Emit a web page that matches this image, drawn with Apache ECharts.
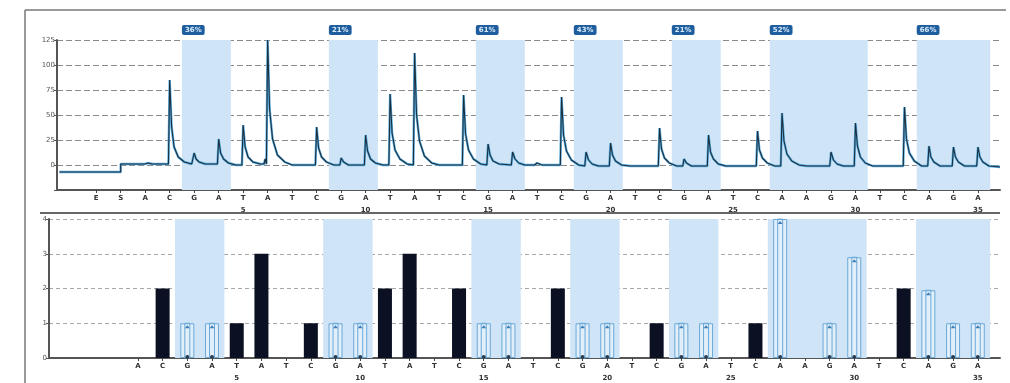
<!DOCTYPE html>
<html><head><meta charset="utf-8">
<script src="https://cdn.jsdelivr.net/npm/echarts@6/dist/echarts.min.js"></script>
<style>html,body{margin:0;padding:0;background:#fff}#c{width:1010px;height:383px}</style>
</head><body><div id="c"></div>
<script>
// Dispensation order of the pyrogram (top: with E and S), numbered from the first A
const topLetters = ['E','S','A','C','G','A','T','A','T','C','G','A','T','A','T','C','G','A','T','C','G','A','T','C','G','A','T','C','A','A','G','A','T','C','A','G','A'];
const bottomLetters = ['A','C','G','A','T','A','T','C','G','A','T','A','T','C','G','A','T','C','G','A','T','C','G','A','T','C','A','A','G','A','T','C','A','G','A'];
const numberLabels = [5,10,15,20,25,30,35];
// variable positions (dispensation numbers, first..last) and their methylation %
const regionStart = [3,9,15,19,23,27,33];
const regionEnd   = [4,10,16,20,24,30,35];
const percents = ['36%','21%','61%','43%','21%','52%','66%'];
// histogram (expected peak heights) per dispensation number 1..35
const histogram = [0,2,1,1,1,3,0,1,1,1,2,3,0,2,1,1,0,2,1,1,0,1,1,1,0,1,4,0,1,2.9,0,2,1.95,1,1];
// pyrogram trace: [dispensation index (E=0), signal]
const trace = [
[-1.5,-7],[1.0,-7],[1.0,1],[2.0,1],[2.1,2],[2.3,1],
[2.95,1],[3.0,85],[3.08,38],[3.18,18],[3.35,8],[3.6,3],[3.9,1],
[3.95,1],[4.0,12],[4.08,6],[4.2,3],[4.45,1],
[4.95,1],[5.0,26],[5.08,12],[5.2,6],[5.4,2],[5.7,0],
[5.95,0],[6.0,40],[6.08,18],[6.2,8],[6.4,3],[6.7,1],
[6.85,1],[6.9,6],[6.95,1],[7.0,125],[7.08,56],[7.2,26],[7.4,10],[7.7,3],[8.0,0],
[8.95,0],[9.0,38],[9.08,17],[9.2,8],[9.4,3],[9.7,0],
[9.95,0],[10.0,7],[10.1,3],[10.3,0],
[10.95,0],[11.0,30],[11.08,14],[11.2,6],[11.4,2],[11.7,0],
[11.95,0],[12.0,71],[12.08,32],[12.2,15],[12.4,6],[12.7,1],
[12.95,0],[13.0,112],[13.08,50],[13.2,24],[13.4,9],[13.7,2],[14.0,0],
[14.95,0],[15.0,70],[15.08,31],[15.2,15],[15.4,6],[15.7,1],
[15.95,0],[16.0,21],[16.08,10],[16.2,4],[16.45,1],
[16.95,0],[17.0,13],[17.1,6],[17.25,2],[17.5,0],
[17.9,0],[18.0,2],[18.2,0],
[18.95,0],[19.0,68],[19.08,30],[19.2,14],[19.4,5],[19.7,0],
[19.95,-1],[20.0,13],[20.1,5],[20.25,1],[20.5,-1],
[20.95,-1],[21.0,22],[21.08,10],[21.2,4],[21.45,0],[21.8,-1],
[22.95,-1],[23.0,37],[23.08,16],[23.2,7],[23.4,2],[23.7,-1],
[23.95,-1],[24.0,6],[24.1,2],[24.3,-1],
[24.95,-1],[25.0,30],[25.08,13],[25.2,6],[25.4,1],[25.7,-1],
[26.95,-1],[27.0,34],[27.08,15],[27.2,7],[27.4,2],[27.7,-1],
[27.95,-1],[28.0,52],[28.08,24],[28.2,11],[28.4,4],[28.7,0],[29.0,-1],
[29.95,-1],[30.0,13],[30.1,5],[30.25,1],[30.5,-1],
[30.95,-1],[31.0,42],[31.08,19],[31.2,8],[31.4,2],[31.7,-1],
[32.95,-1],[33.0,58],[33.08,26],[33.2,12],[33.4,4],[33.7,-1],
[33.95,-1],[34.0,19],[34.08,8],[34.2,3],[34.45,-1],
[34.95,-1],[35.0,18],[35.08,8],[35.2,3],[35.45,-1],
[35.95,-1],[36.0,18],[36.08,8],[36.2,3],[36.45,-1],
[36.9,-2]
];

const chart = echarts.init(document.getElementById('c'));
const FONT = 'DejaVu Sans';
const SHADE = '#cfe5f7';
const topIdx = n => n + 1;     // dispensation number -> top index (E=0)
const botIdx = n => n - 1;     // dispensation number -> bottom index (A=0)
const isVar = n => regionStart.some((s,i) => n >= s && n <= regionEnd[i]);

function letterLabel(letters, toNum) {
  return function (v) {
    const k = Math.round(v);
    const l = letters[k] || '';
    const num = toNum(k);
    return numberLabels.indexOf(num) >= 0 ? l + '\n{n|' + num + '}' : l;
  };
}
const topTicks = topLetters.map((_, i) => i);
const botTicks = bottomLetters.map((_, i) => i);

const topAreas = regionStart.map((s, i) => [
  { xAxis: topIdx(s) - 0.5, label: { show: true, formatter: percents[i] } },
  { xAxis: topIdx(regionEnd[i]) + 0.5 }
]);
const botAreas = regionStart.map((s, i) => [
  { xAxis: botIdx(s) - 0.5 }, { xAxis: botIdx(regionEnd[i]) + 0.5 }
]);

const bars = [], outlined = [];
histogram.forEach((v, i) => {
  const n = i + 1;
  if (v <= 0) return;
  if (isVar(n)) {
    outlined.push([botIdx(n), v]);
    bars.push({ value: [botIdx(n), v], itemStyle: { color: 'rgba(240,248,254,0.55)', borderColor: '#6aa8d8', borderWidth: 1 } });
  } else {
    bars.push({ value: [botIdx(n), v], itemStyle: { color: '#0b1022' } });
  }
});

const labelCommon = { fontFamily: FONT, fontSize: 7, fontWeight: 'bold', color: '#333', lineHeight: 11,
  rich: { n: { fontFamily: FONT, fontSize: 7, fontWeight: 'bold', color: '#333', padding: [2,0,0,0] } } };

chart.setOption({
  animation: false,
  graphic: [
    { type: 'line', shape: { x1: 25, y1: 10, x2: 25, y2: 383 }, style: { stroke: '#777', lineWidth: 1.5 } },
    { type: 'line', shape: { x1: 25, y1: 10, x2: 1006, y2: 10 }, style: { stroke: '#777', lineWidth: 1.5 } },
    { type: 'line', shape: { x1: 40, y1: 213, x2: 1000, y2: 213 }, style: { stroke: '#666', lineWidth: 2 } }
  ],
  grid: [
    { left: 57, right: 10, top: 40, bottom: 193 },
    { left: 49, right: 10, top: 219, bottom: 24 }
  ],
  xAxis: [
    { type: 'value', gridIndex: 0, min: -1.6, max: 36.9, splitLine: { show: false },
      axisLine: { show: true, onZero: false, lineStyle: { color: '#555', width: 2 } },
      axisTick: { show: true, customValues: topTicks, length: 3, lineStyle: { color: '#444' } },
      axisLabel: Object.assign({ customValues: topTicks, formatter: letterLabel(topLetters, k => k - 1), margin: 3 }, labelCommon) },
    { type: 'value', gridIndex: 1, min: -3.6, max: 34.9, splitLine: { show: false },
      axisLine: { show: true, onZero: false, lineStyle: { color: '#555', width: 2 } },
      axisTick: { show: true, customValues: botTicks, length: 3, lineStyle: { color: '#444' } },
      axisLabel: Object.assign({ customValues: botTicks, formatter: letterLabel(bottomLetters, k => k + 1), margin: 3 }, labelCommon) }
  ],
  yAxis: [
    { type: 'value', gridIndex: 0, min: -25, max: 125, interval: 25,
      axisLine: { show: true, onZero: false, lineStyle: { color: '#555', width: 2 } },
      axisTick: { show: true, length: 3, lineStyle: { color: '#555' } },
      axisLabel: { fontFamily: FONT, fontSize: 7, color: '#555', margin: 2, formatter: v => v < 0 ? '' : String(v) },
      splitLine: { show: true, lineStyle: { color: '#8a8a8a', type: [6, 3], width: 1 } } },
    { type: 'value', gridIndex: 1, min: 0, max: 4, interval: 1,
      axisLine: { show: true, onZero: false, lineStyle: { color: '#555', width: 2 } },
      axisTick: { show: true, length: 3, lineStyle: { color: '#555' } },
      axisLabel: { fontFamily: FONT, fontSize: 7, color: '#555', margin: 2 },
      splitLine: { show: true, lineStyle: { color: '#a8a8a8', type: [4, 3], width: 1 } } }
  ],
  series: [
    { type: 'line', xAxisIndex: 0, yAxisIndex: 0, data: trace, showSymbol: false, symbol: 'none',
      lineStyle: { color: '#5aaee0', width: 2.4 }, z: 3,
      markArea: { silent: true, itemStyle: { color: SHADE },
        label: { position: [0, -15], fontFamily: FONT, fontSize: 7, fontWeight: 'bold', color: '#d8ebfa',
                 backgroundColor: '#1f5e9e', borderRadius: 2, padding: [2, 3, 1, 3] },
        data: topAreas } },
    { type: 'line', xAxisIndex: 0, yAxisIndex: 0, data: trace, showSymbol: false, symbol: 'none',
      lineStyle: { color: '#1c2f3f', width: 1.1 }, z: 4 },
    { type: 'bar', xAxisIndex: 1, yAxisIndex: 1, data: bars, barWidth: 14, z: 4,
      markArea: { silent: true, itemStyle: { color: SHADE }, data: botAreas } },
    { type: 'custom', xAxisIndex: 1, yAxisIndex: 1, data: outlined, z: 5,
      renderItem: function (params, api) {
        const top = api.coord([api.value(0), api.value(1)]);
        const base = api.coord([api.value(0), 0]);
        return { type: 'group', children: [
          { type: 'rect', shape: { x: top[0] - 2.5, y: top[1], width: 5, height: base[1] - top[1] },
            style: { fill: 'none', stroke: '#6aa8d8', lineWidth: 1 } },
          { type: 'polygon', shape: { points: [[top[0] - 2.5, top[1] + 5], [top[0], top[1] + 2], [top[0] + 2.5, top[1] + 5]] },
            style: { fill: '#3f7fb8' } },
          { type: 'circle', shape: { cx: base[0], cy: base[1] - 1, r: 2 }, style: { fill: '#2c3e50' } }
        ] };
      } }
  ]
});
</script></body></html>
